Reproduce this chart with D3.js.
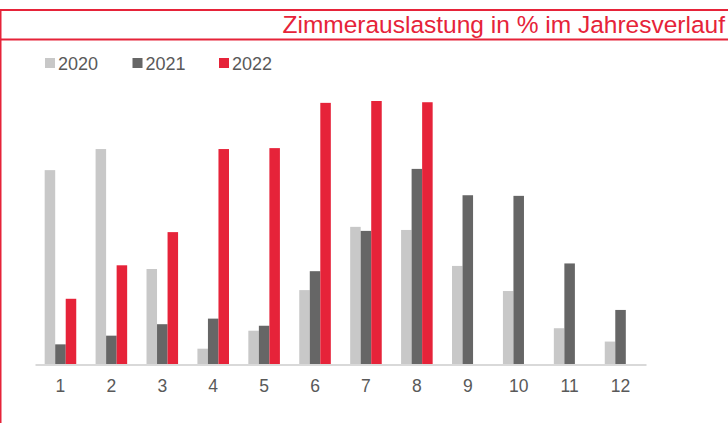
<!DOCTYPE html>
<html>
<head>
<meta charset="utf-8">
<script src="https://cdn.jsdelivr.net/npm/d3@7"></script>
<style>
  body { margin: 0; background: #fff; }
  svg { display: block; font-family: "Liberation Sans", Arial, sans-serif; }
</style>
</head>
<body>
<script>
const months = ['1','2','3','4','5','6','7','8','9','10','11','12'];
const years = ['2020','2021','2022'];
// occupancy in % (2022 ends in August)
const v2020 = [62.7, 69.5, 30.8, 5.1, 10.9, 24.0, 44.4, 43.4, 31.8, 23.7, 11.7, 7.4];
const v2021 = [6.5, 9.3, 13.0, 14.8, 12.5, 30.1, 43.1, 63.1, 54.6, 54.4, 32.6, 17.6];
const v2022 = [21.2, 32.0, 42.7, 69.5, 69.8, 84.4, 85.0, 84.6, null, null, null, null];
const colors = ['#c8c8c8', '#666666', '#e62339'];

const width = 728, height = 423;
const red = '#e62339';
const series = [v2020, v2021, v2022];

const svg = d3.select('body').append('svg')
    .attr('width', width)
    .attr('height', height);

// frame lines
svg.append('line').attr('x1', 0).attr('x2', width).attr('y1', 10).attr('y2', 10)
    .attr('stroke', red).attr('stroke-width', 2);
svg.append('line').attr('x1', 0).attr('x2', width).attr('y1', 39.5).attr('y2', 39.5)
    .attr('stroke', red).attr('stroke-width', 2);
svg.append('line').attr('x1', 0.75).attr('x2', 0.75).attr('y1', 9).attr('y2', height)
    .attr('stroke', red).attr('stroke-width', 1.5);

svg.append('text')
    .attr('x', 725).attr('y', 32.5)
    .attr('text-anchor', 'end')
    .attr('fill', red)
    .attr('font-size', 24.5)
    .text('Zimmerauslastung in % im Jahresverlauf');

const x0 = d3.scaleBand()
    .domain(months)
    .range([35, 646])
    .paddingInner(0.38)
    .paddingOuter(0.19);

const x1 = d3.scaleBand()
    .domain(years)
    .range([0, x0.bandwidth()]);

const y = d3.scaleLinear()
    .domain([0, 100])
    .range([364.5, 54.5]);

const rows = months.map((m, i) => ({
  month: m,
  vals: years.map((yr, j) => ({ year: yr, value: series[j][i], color: colors[j] }))
}));

const groups = svg.append('g').selectAll('g')
    .data(rows)
    .join('g')
    .attr('transform', d => `translate(${x0(d.month)},0)`);

groups.selectAll('rect')
    .data(d => d.vals.filter(v => v.value != null))
    .join('rect')
    .attr('x', d => x1(d.year))
    .attr('width', x1.bandwidth())
    .attr('y', d => y(d.value))
    .attr('height', d => y(0) - y(d.value))
    .attr('fill', d => d.color);

// x axis
const xAxis = svg.append('g')
    .attr('transform', `translate(0,${y(0)})`)
    .call(d3.axisBottom(x0).tickSize(0).tickPadding(15));
xAxis.select('.domain').attr('stroke', '#d9d9d9').attr('stroke-width', 1.8);
xAxis.selectAll('text')
    .attr('font-size', 17.5)
    .attr('font-family', '"Liberation Sans", Arial, sans-serif')
    .attr('fill', '#595959');

// legend
const legendX = [45, 132.5, 219];
const legend = svg.append('g').selectAll('g')
    .data(years)
    .join('g')
    .attr('transform', (d, i) => `translate(${legendX[i]},58)`);
legend.append('rect')
    .attr('width', 10).attr('height', 10)
    .attr('fill', (d, i) => colors[i]);
legend.append('text')
    .attr('x', 13).attr('y', 12)
    .attr('font-size', 18)
    .attr('fill', '#595959')
    .text(d => d);
</script>
</body>
</html>
